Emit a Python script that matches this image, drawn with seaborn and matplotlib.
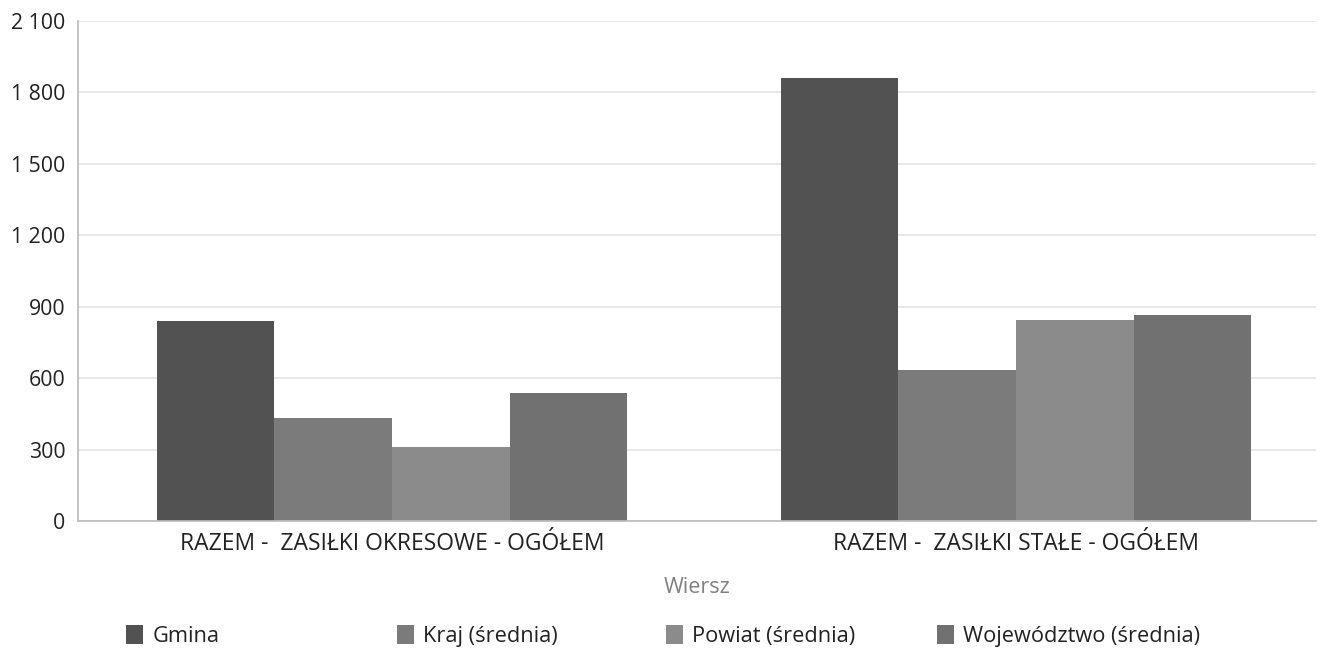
import matplotlib
matplotlib.use("Agg")
import matplotlib.pyplot as plt
import seaborn as sns
import pandas as pd

categories = ["RAZEM -  ZASIŁKI OKRESOWE - OGÓŁEM", "RAZEM -  ZASIŁKI STAŁE - OGÓŁEM"]
series = ["Gmina", "Kraj (średnia)", "Powiat (średnia)", "Województwo (średnia)"]
gmina = [838, 1862]
kraj = [433, 635]
powiat = [310, 845]
wojewodztwo = [538, 866]
colors = ["#525252", "#7b7b7b", "#8b8b8b", "#717171"]
yticks = [0, 300, 600, 900, 1200, 1500, 1800, 2100]
ytick_labels = ["0", "300", "600", "900", "1 200", "1 500", "1 800", "2 100"]

rows = []
for s, vals in zip(series, [gmina, kraj, powiat, wojewodztwo]):
    for c, v in zip(categories, vals):
        rows.append({"Wiersz": c, "Seria": s, "Wartość": v})
df = pd.DataFrame(rows)

sns.set_theme(style="white")
plt.rcParams["font.family"] = ["Open Sans", "DejaVu Sans"]

W, H = 1319, 651
fig = plt.figure(figsize=(W / 100, H / 100), dpi=100)
left_px, right_px, top_px, bottom_px = 78, 1316, 21, 521
ax = fig.add_axes([left_px / W, (H - bottom_px) / H,
                   (right_px - left_px) / W, (bottom_px - top_px) / H])

sns.barplot(data=df, x="Wiersz", y="Wartość", hue="Seria", hue_order=series,
            palette=colors, width=0.754, saturation=1, ax=ax, legend=True,
            linewidth=0)

# 624 px per category; first category center at x=392 px
ppu = 624.0
xmin = -(392 - left_px) / ppu
xmax = xmin + (right_px - left_px) / ppu
ax.set_xlim(xmin, xmax)
ax.set_ylim(0, 2100)
ax.set_yticks(yticks)
ax.set_yticklabels(ytick_labels, fontsize=15.3, color="#222222")
ax.tick_params(axis="x", labelsize=16.5, colors="#222222", length=0, pad=8)
ax.tick_params(axis="y", length=0, pad=9)
ax.yaxis.grid(True, color="#e4e4e4", linewidth=1.2)
ax.set_axisbelow(True)
ax.set_ylabel("")
ax.set_xlabel("Wiersz", fontsize=15.5, color="#808080", labelpad=15)
for side in ["top", "right"]:
    ax.spines[side].set_visible(False)
ax.spines["left"].set_color("#bdbdbd")
ax.spines["bottom"].set_color("#bdbdbd")

handles, labels = ax.get_legend_handles_labels()
ax.legend_.remove()
legend_x_px = [126, 397, 666, 937]
for h, l, xp in zip(handles, labels, legend_x_px):
    leg = fig.legend([h], [l], loc="center left",
                     bbox_to_anchor=(xp / W, (H - 636) / H),
                     frameon=False, fontsize=15.7, handlelength=0.8,
                     handleheight=1.0, handletextpad=0.4, borderpad=0,
                     borderaxespad=0)
    for t in leg.get_texts():
        t.set_color("#222222")

fig.savefig("out.png", dpi=100)
